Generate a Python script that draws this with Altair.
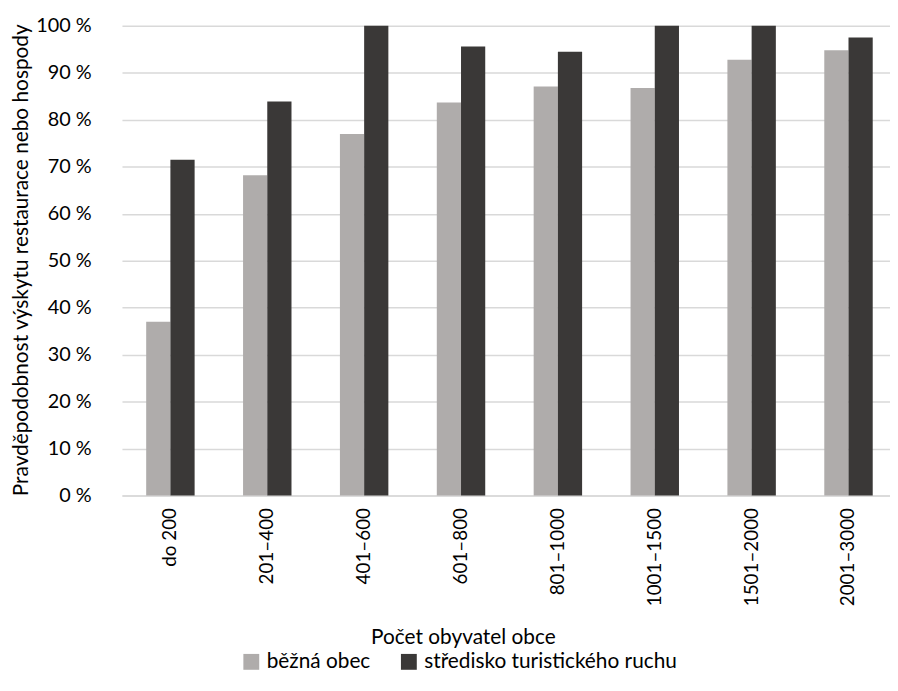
import altair as alt
import pandas as pd

categories = ["do 200", "201–400", "401–600", "601–800", "801–1000", "1001–1500", "1501–2000", "2001–3000"]
series_names = ["běžná obec", "středisko turistického ruchu"]
bezna_obec = [37.0, 68.2, 77.0, 83.7, 87.1, 86.8, 92.8, 94.8]
stredisko = [71.5, 83.9, 100.0, 95.6, 94.5, 100.0, 100.0, 97.5]
y_ticks = [0, 10, 20, 30, 40, 50, 60, 70, 80, 90, 100]

rows = []
for i, c in enumerate(categories):
    rows.append({"kat": c, "typ": series_names[0], "hodnota": bezna_obec[i]})
    rows.append({"kat": c, "typ": series_names[1], "hodnota": stredisko[i]})
df = pd.DataFrame(rows)

FONT = "Lato"

chart = alt.Chart(df).mark_bar().encode(
    x=alt.X("kat:N", sort=categories,
            scale=alt.Scale(range=[0, 782], paddingInner=0.5, paddingOuter=0.25),
            axis=alt.Axis(title="Počet obyvatel obce", labelAngle=-90, labelAlign="right",
                          labelBaseline="middle", labelPadding=12, ticks=False,
                          domainColor="#D9D9D9", domainWidth=1.5,
                          labelFont=FONT, labelFontSize=19, labelColor="#000",
                          titleFont=FONT, titleFontSize=21, titleFontWeight="normal", titleColor="#000",
                          titleX=344, titleY=143, titleBaseline="middle", titleAlign="center")),
    xOffset=alt.XOffset("typ:N", sort=series_names,
                        scale=alt.Scale(paddingInner=0, paddingOuter=0)),
    y=alt.Y("hodnota:Q", scale=alt.Scale(domain=[0, 100]),
            axis=alt.Axis(title="Pravděpodobnost výskytu restaurace nebo hospody",
                          values=y_ticks, labelExpr="datum.value + ' %'",
                          domain=False, ticks=False, labelPadding=31,
                          gridColor="#D9D9D9", gridWidth=1.5,
                          labelFont=FONT, labelFontSize=20, labelColor="#000",
                          titleFont=FONT, titleFontSize=21, titleFontWeight="normal", titleColor="#000",
                          titleX=-101, titleY=236, titleAlign="center", titleBaseline="middle")),
    color=alt.Color("typ:N", sort=series_names,
                    scale=alt.Scale(domain=series_names, range=["#AFACAB", "#3A3837"]),
                    legend=alt.Legend(title=None, orient="none", direction="horizontal",
                                      legendX=120, legendY=631, symbolType="square",
                                      symbolSize=256, symbolStrokeWidth=0, symbolOpacity=1,
                                      labelFont=FONT, labelFontSize=21, labelColor="#000",
                                      labelOffset=5, columnPadding=28, labelLimit=400)),
).properties(
    width=775, height=474,
    autosize=alt.AutoSizeParams(type="none"),
    padding={"left": 115, "top": 15, "right": 0, "bottom": 180},
).configure_view(stroke=None)

chart.save("out.html", embed_options={"renderer": "svg", "actions": False})
